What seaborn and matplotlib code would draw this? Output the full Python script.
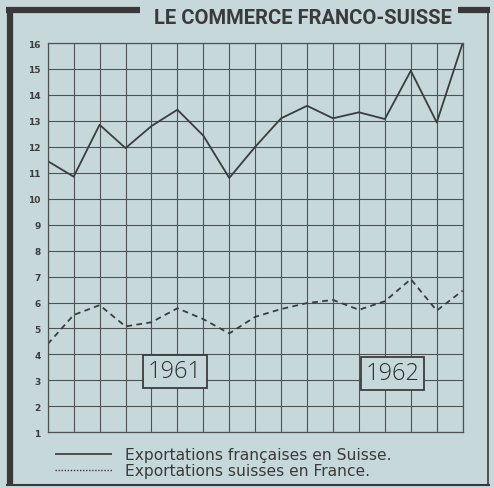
import matplotlib
matplotlib.use("Agg")
import matplotlib.pyplot as plt
from matplotlib.lines import Line2D
import numpy as np
import pandas as pd
import seaborn as sns

# values (milliards, 17 points over 1961-1962)
periods = list(range(17))
exports_fr = [11.45, 10.85, 12.85, 11.95, 12.8, 13.43, 12.43, 10.8, 12.0,
              13.1, 13.58, 13.1, 13.33, 13.07, 14.93, 12.94, 16.0]
exports_ch = [4.4, 5.52, 5.9, 5.08, 5.24, 5.78, 5.36, 4.81, 5.45,
              5.75, 5.98, 6.1, 5.72, 6.05, 6.9, 5.69, 6.46]
y_ticks = list(range(1, 17))
year_labels = ["1961", "1962"]
year_pos = [(4.9, 3.35), (13.3, 3.27)]
legend_labels = ["Exportations françaises en Suisse.",
                 "Exportations suisses en France."]
title = "LE COMMERCE FRANCO-SUISSE"

BG = "#c7d8db"
INK = "#3b3d3d"
GRID = "#4d5252"

sns.set_theme(style="white")
plt.rcParams["font.family"] = ["DejaVu Sans"]

df = pd.DataFrame({
    "period": periods * 2,
    "value": exports_fr + exports_ch,
    "serie": [legend_labels[0]] * 17 + [legend_labels[1]] * 17,
})

fig = plt.figure(figsize=(4.94, 4.89), dpi=100, facecolor=BG)
ax = fig.add_axes([0.0966, 0.1139, 0.840, 0.7961])
ax.set_facecolor(BG)

sns.lineplot(data=df, x="period", y="value", style="serie",
             dashes={legend_labels[0]: "", legend_labels[1]: (3.2, 2.4)},
             color=INK, linewidth=1.3, legend=False, ax=ax)

ax.set_xlim(0, 16)
ax.set_ylim(1, 16)
ax.set_xticks(periods)
ax.set_xticklabels([])
ax.set_yticks(y_ticks)
ax.set_yticklabels([str(t) for t in y_ticks], fontsize=6.5, color=INK,
                   fontweight="bold")
ax.tick_params(axis="both", length=0, pad=5)
ax.set_xlabel("")
ax.set_ylabel("")
ax.grid(True, color=GRID, linewidth=0.8)
ax.set_axisbelow(True)
for sp in ax.spines.values():
    sp.set_color(GRID)
    sp.set_linewidth(0.9)

# year boxes
for lab, (xx, yy) in zip(year_labels, year_pos):
    ax.text(xx, yy, lab, ha="center", va="center", fontsize=17,
            color="#2c2e2e", zorder=5,
            family=["Open Sans", "DejaVu Sans"], fontweight="light",
            bbox=dict(boxstyle="square,pad=0.2", facecolor=BG,
                      edgecolor=INK, linewidth=1.3))

# frame around the chart
def fline(x0, x1, y0, y1, lw):
    fig.add_artist(Line2D([x0, x1], [y0, y1], transform=fig.transFigure,
                          color="#3a3838", linewidth=lw,
                          solid_capstyle="butt"))

fline(0.0202, 0.0202, 0.984, 0.004, 4.5)
fline(0.012, 0.283, 0.977, 0.977, 4.5)
fline(0.927, 0.992, 0.977, 0.977, 4.5)
fline(0.988, 0.988, 0.98, 0.004, 1.2)
fline(0.012, 0.992, 0.006, 0.006, 1.5)

fig.text(0.613, 0.962, title, ha="center", va="center", fontsize=14.5,
         fontweight="bold", color="#3a3a3a",
         family=["Roboto", "DejaVu Sans"])

# legend
fline(0.111, 0.227, 0.0695, 0.0695, 1.2)
fig.add_artist(Line2D([0.111, 0.227], [0.0368, 0.0368],
                      transform=fig.transFigure, color="#3a3838",
                      linewidth=1.0, linestyle=(0, (1, 1.2))))
fig.text(0.253, 0.0695, legend_labels[0], ha="left", va="center",
         fontsize=11.2, color="#3a3a3a")
fig.text(0.253, 0.0368, legend_labels[1], ha="left", va="center",
         fontsize=11.2, color="#3a3a3a")

fig.savefig("out.png", dpi=100, facecolor=BG)
